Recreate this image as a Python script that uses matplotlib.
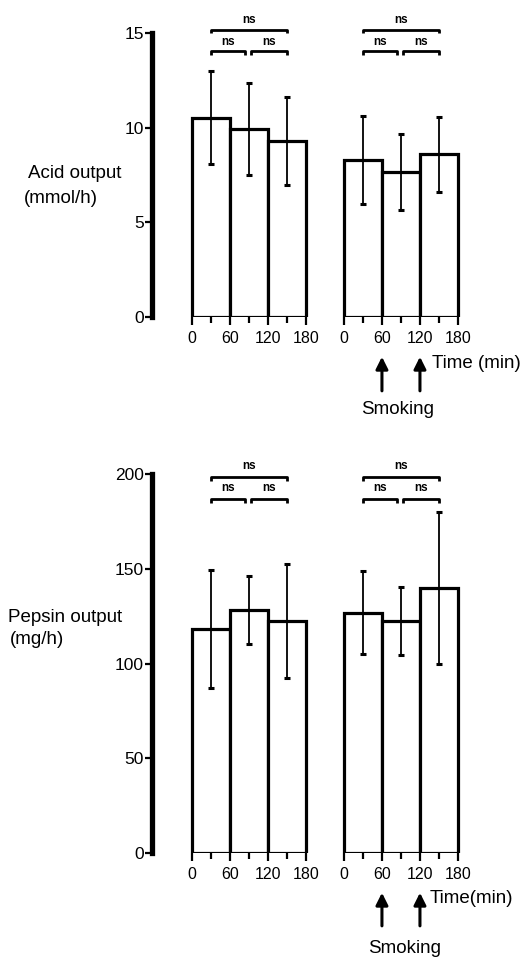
import matplotlib
matplotlib.use("Agg")
import numpy as np
from matplotlib import pyplot as plt

plt.rcParams['font.family'] = ['Liberation Sans', 'DejaVu Sans']

# period start of each hourly bar (min) and the offset of the second series
bar_starts = [0, 60, 120]
group_offset = 240
tick_values = [0, 60, 120, 180]
tick_labels = ['0', '60', '120', '180']

acid_control = [10.53, 9.93, 9.28]
acid_control_err = [2.47, 2.43, 2.33]
acid_smoking = [8.29, 7.64, 8.59]
acid_smoking_err = [2.3, 2.0, 1.97]

pepsin_control = [118.4, 128.3, 122.5]
pepsin_control_err = [31, 18, 30]
pepsin_smoking = [127.0, 122.8, 140.1]
pepsin_smoking_err = [22, 18, 40]

acid_yticks = [0, 5, 10, 15]
pepsin_yticks = [0, 50, 100, 150, 200]

W, H = 532, 957
fig = plt.figure(figsize=(W / 100, H / 100), dpi=100)


def px_axes(left, top, right, bottom):
    return fig.add_axes([left / W, 1 - bottom / H, (right - left) / W, (bottom - top) / H])


def draw_panel(ax, control, control_err, smoking, smoking_err, ymax, yticks, unit, time_label):
    starts = np.array(bar_starts)
    for off, vals, errs in ((0, control, control_err), (group_offset, smoking, smoking_err)):
        ax.bar(starts + off, vals, width=60, align='edge', color='white',
               edgecolor='black', linewidth=2.3, zorder=2)
        ax.errorbar(starts + off + 30, vals, yerr=errs, fmt='none', ecolor='black',
                    elinewidth=1.3, capsize=2.5, capthick=2.2, zorder=3)

        # significance brackets
        low = ymax * 0.935 if ymax == 15 else ymax * 0.936
        high = ymax * 1.011 if ymax == 15 else ymax * 0.994
        hook = ymax * 0.012
        for x0, x1, y in ((30, 84, low), (93, 150, low), (30, 150, high)):
            ax.plot([x0 + off, x0 + off, x1 + off, x1 + off], [y - hook, y, y, y - hook],
                    color='black', lw=2, clip_on=False, solid_capstyle='butt')
            ax.text((x0 + x1) / 2 + off, y + ymax * 0.012, 'ns', ha='center', va='bottom',
                    fontsize=8.5, fontweight='bold')

    ax.set_xlim(-63, 439)
    ax.set_ylim(0, ymax)
    ax.set_xticks([t + off for off in (0, group_offset) for t in tick_values])
    ax.set_xticklabels(tick_labels * 2, fontsize=11.5)
    ax.set_xticks([t + off for off in (0, group_offset) for t in (30, 90, 150)], minor=True)
    ax.tick_params(axis='x', which='major', length=6, width=1.6, pad=4)
    ax.tick_params(axis='x', which='minor', length=4, width=1.6)
    ax.set_yticks(yticks)
    ax.set_yticklabels([str(v) for v in yticks], fontsize=12.5)
    ax.tick_params(axis='y', length=5, width=1.6, pad=1)
    for side in ('top', 'right', 'bottom'):
        ax.spines[side].set_visible(False)
    ax.spines['left'].set_linewidth(3.8)
    ax.patch.set_alpha(0)

    # smoking arrows under the second series
    for t in (60, 120):
        ax.annotate('', xy=(t + group_offset, unit[0]), xytext=(t + group_offset, unit[1]),
                    xycoords='data', annotation_clip=False,
                    arrowprops=dict(arrowstyle='-|>', color='black', lw=2.2,
                                    mutation_scale=18, shrinkA=0, shrinkB=0))
    ax.text(group_offset + unit[4], unit[3], 'Smoking', ha='center', va='center', fontsize=13.5)
    ax.text(group_offset + unit[5], unit[2], time_label, ha='left', va='center', fontsize=13.5)


ax1 = px_axes(152, 33, 470, 317)
draw_panel(ax1, acid_control, acid_control_err, acid_smoking, acid_smoking_err,
           15, acid_yticks, (-2.1, -3.9, -2.45, -4.9, 84, 139), 'Time (min)')
fig.text(28 / W, 1 - 173 / H, 'Acid output', fontsize=13.5, ha='left', va='center')
fig.text(24 / W, 1 - 199 / H, '(mmol/h)', fontsize=13.5, ha='left', va='center')

ax2 = px_axes(152, 474.5, 470, 853)
draw_panel(ax2, pepsin_control, pepsin_control_err, pepsin_smoking, pepsin_smoking_err,
           200, pepsin_yticks, (-21, -38.5, -24, -50.5, 96, 136), 'Time(min)')
fig.text(8 / W, 1 - 617 / H, 'Pepsin output', fontsize=13.5, ha='left', va='center')
fig.text(10 / W, 1 - 640 / H, '(mg/h)', fontsize=13.5, ha='left', va='center')

fig.savefig('out.png', dpi=100)
